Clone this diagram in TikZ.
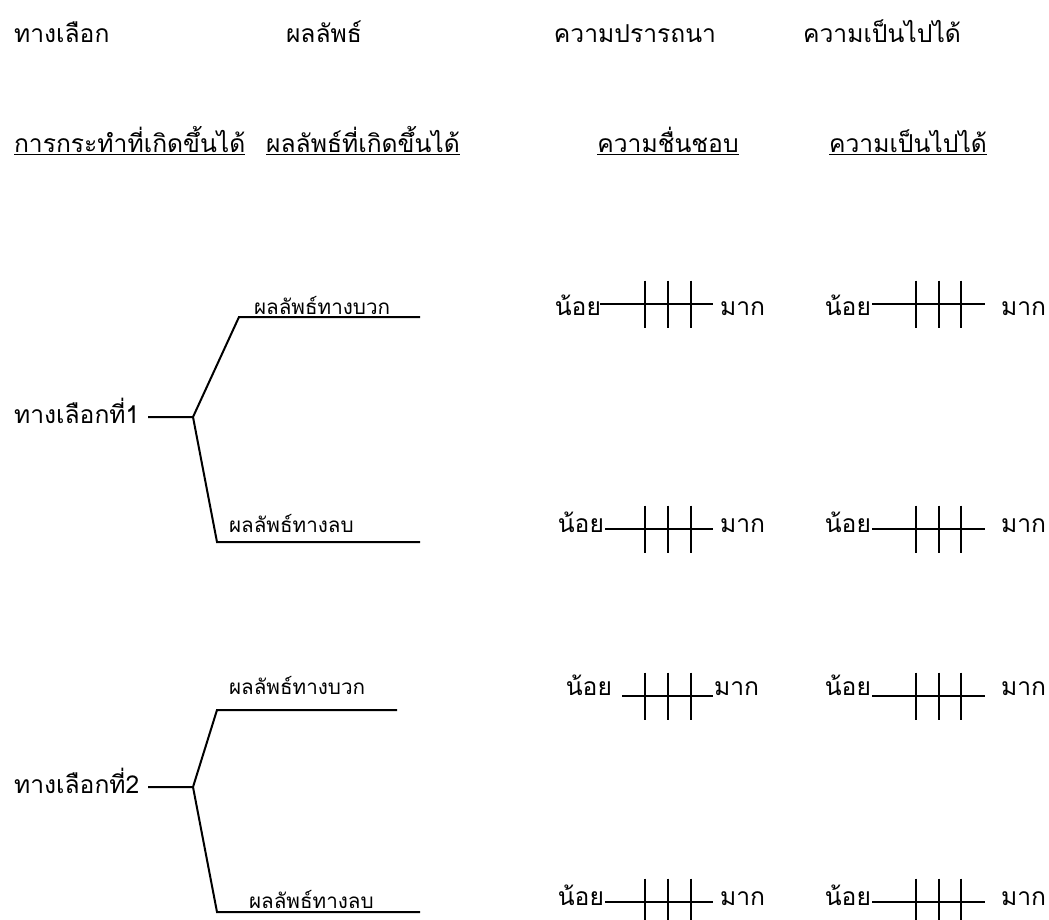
\documentclass[tikz,border=0pt]{standalone}
\usepackage{fontspec}
\newfontfamily\thaifont[Script=Thai]{Loma}
\begin{document}
\begin{tikzpicture}[x=0.75pt, y=-0.75pt, line width=1.5pt]
		% Text styles
		\tikzstyle{head} = [inner sep=0pt, font=\thaifont\fontsize{18.5}{22}\selectfont]
		\tikzstyle{small} = [inner sep=0pt, anchor=base west, font=\thaifont\fontsize{15.5}{18}\selectfont]
		\tikzstyle{lbl} = [inner sep=0pt, font=\thaifont\fontsize{18.5}{22}\selectfont]
		
		\useasboundingbox (0,0) rectangle (1049,920);
		
		% Headings
		\node[head, anchor=base west] (alt) at (13,43) {ทางเลือก};
		\node[head, anchor=base] (result) at (324,43) {ผลลัพธ์};
		\node[head, anchor=base] (desire) at (635,43) {ความปรารถนา};
		\node[head, anchor=base] (chance) at (882,43) {ความเป็นไปได้};
		\node[head, anchor=base west] (action) at (13,152) {\underline{การกระทำที่เกิดขึ้นได้}};
		\node[head, anchor=base] (outcome) at (363,152) {\underline{ผลลัพธ์ที่เกิดขึ้นได้}};
		\node[head, anchor=base] (liking) at (668,152) {\underline{ความชื่นชอบ}};
		\node[head, anchor=base] (prob) at (908,152) {\underline{ความเป็นไปได้}};
		
		% Alternative 1
		\node[head, anchor=base west] (alt1) at (13,423) {ทางเลือกที่1};
		\coordinate (stem1) at (148,417);
		\coordinate (fork1) at (193,417);
		\coordinate (up1) at (239,317);
		\coordinate (upend1) at (420,317);
		\coordinate (dn1) at (217,542);
		\coordinate (dnend1) at (420,542);
		\draw (stem1) -- (fork1) -- (up1) -- (upend1);
		\draw (fork1) -- (dn1) -- (dnend1);
		\node[small] (pos1) at (253,314) {ผลลัพธ์ทางบวก};
		\node[small] (neg1) at (228,532) {ผลลัพธ์ทางลบ};
		
		% Alternative 2
		\node[head, anchor=base west] (alt2) at (13,793) {ทางเลือกที่2};
		\coordinate (stem2) at (148,787);
		\coordinate (fork2) at (193,787);
		\coordinate (up2) at (217,710);
		\coordinate (upend2) at (397,710);
		\coordinate (dn2) at (217,912);
		\coordinate (dnend2) at (420,912);
		\draw (stem2) -- (fork2) -- (up2) -- (upend2);
		\draw (fork2) -- (dn2) -- (dnend2);
		\node[small] (pos2) at (228,694) {ผลลัพธ์ทางบวก};
		\node[small] (neg2) at (248,908) {ผลลัพธ์ทางลบ};
		
		% Rating scales
		\foreach \r/\y/\b/\s/\n/\m in {1/304/315/600/602/719, 2/529/532/605/605/719, 3/696/695/622/613/713, 4/902/905/605/605/719} {
			\node[lbl, anchor=base east] (lowA\r) at (\n,\b) {น้อย};
			\node[lbl, anchor=base west] (highA\r) at (\m,\b) {มาก};
			\coordinate (sA\r) at (\s,\y);
			\coordinate (eA\r) at (713,\y);
			\draw (sA\r) -- (eA\r);
			\foreach \t in {645,668,691} \draw (\t,\y-23.5) -- (\t,\y+23.5);
			
			\node[lbl, anchor=base east] (lowB\r) at (872,\b) {น้อย};
			\node[lbl, anchor=base west] (highB\r) at (1000,\b) {มาก};
			\coordinate (sB\r) at (872,\y);
			\coordinate (eB\r) at (985,\y);
			\draw (sB\r) -- (eB\r);
			\foreach \t in {916,939,961} \draw (\t,\y-23.5) -- (\t,\y+23.5);
		}
	\end{tikzpicture}
\end{document}
